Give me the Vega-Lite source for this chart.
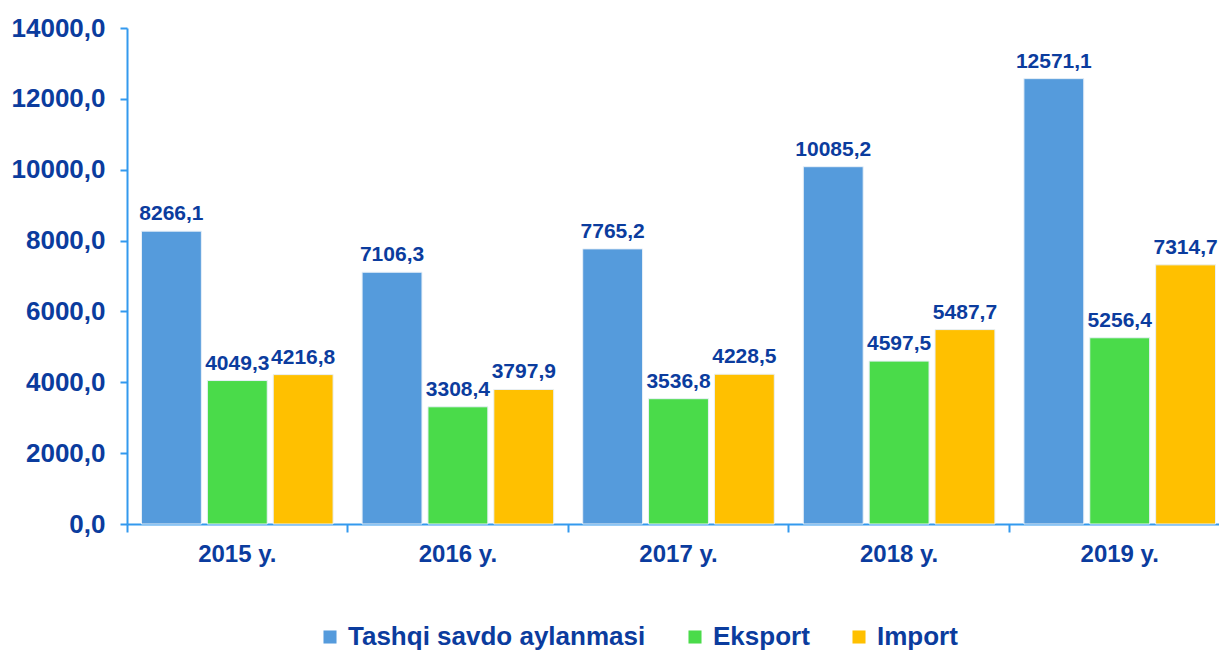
{
  "$schema": "https://vega.github.io/schema/vega-lite/v6.json",
  "width": 1092,
  "height": 496,
  "autosize": {"type": "none"},
  "padding": {"left": 127, "top": 28, "right": 0, "bottom": 129},
  "background": "white",
  "data": {
    "values": [
      {"year": "2015 y.", "series": "Tashqi savdo aylanmasi", "value": 8266.1},
      {"year": "2015 y.", "series": "Eksport", "value": 4049.3},
      {"year": "2015 y.", "series": "Import", "value": 4216.8},
      {"year": "2016 y.", "series": "Tashqi savdo aylanmasi", "value": 7106.3},
      {"year": "2016 y.", "series": "Eksport", "value": 3308.4},
      {"year": "2016 y.", "series": "Import", "value": 3797.9},
      {"year": "2017 y.", "series": "Tashqi savdo aylanmasi", "value": 7765.2},
      {"year": "2017 y.", "series": "Eksport", "value": 3536.8},
      {"year": "2017 y.", "series": "Import", "value": 4228.5},
      {"year": "2018 y.", "series": "Tashqi savdo aylanmasi", "value": 10085.2},
      {"year": "2018 y.", "series": "Eksport", "value": 4597.5},
      {"year": "2018 y.", "series": "Import", "value": 5487.7},
      {"year": "2019 y.", "series": "Tashqi savdo aylanmasi", "value": 12571.1},
      {"year": "2019 y.", "series": "Eksport", "value": 5256.4},
      {"year": "2019 y.", "series": "Import", "value": 7314.7}
    ]
  },
  "encoding": {
    "x": {
      "field": "year", "type": "nominal", "title": null,
      "scale": {"range": [0, 1103], "paddingInner": 0, "paddingOuter": 0},
      "axis": {
        "labelAngle": 0, "bandPosition": 0, "domainColor": "#3399ee", "domainWidth": 2,
        "tickColor": "#3399ee", "tickWidth": 2, "tickSize": 8, "labelPadding": 10,
        "labelFont": "Liberation Sans", "labelFontWeight": "bold", "labelFontSize": 24,
        "labelColor": "#0B3C9E", "grid": false
      }
    },
    "xOffset": {
      "field": "series", "type": "nominal",
      "sort": ["Tashqi savdo aylanmasi", "Eksport", "Import"],
      "scale": {"paddingInner": 0.0909, "paddingOuter": 0.22}
    },
    "y": {
      "field": "value", "type": "quantitative", "title": null,
      "scale": {"domain": [0, 14000], "nice": false},
      "axis": {
        "values": [0, 2000, 4000, 6000, 8000, 10000, 12000, 14000],
        "format": ".1f", "grid": false, "domainColor": "#3399ee", "domainWidth": 2,
        "tickColor": "#3399ee", "tickWidth": 2, "tickSize": 7, "labelPadding": 15,
        "labelFont": "Liberation Sans", "labelFontWeight": "bold", "labelFontSize": 26,
        "labelColor": "#0B3C9E"
      }
    }
  },
  "layer": [
    {
      "mark": {"type": "bar", "stroke": "#e8f0f8", "strokeWidth": 1},
      "encoding": {
        "color": {
          "field": "series", "type": "nominal", "title": null,
          "sort": ["Tashqi savdo aylanmasi", "Eksport", "Import"],
          "scale": {"domain": ["Tashqi savdo aylanmasi", "Eksport", "Import"], "range": ["#559BDC", "#4ADB4A", "#FFC000"]},
          "legend": {
            "orient": "none", "legendX": 190, "legendY": 596, "direction": "horizontal",
            "symbolType": "square", "symbolSize": 170, "symbolStrokeWidth": 0,
            "labelFont": "Liberation Sans", "labelFontWeight": "bold", "labelFontSize": 26,
            "labelColor": "#0B3C9E", "labelOffset": 5, "columnPadding": 36, "labelLimit": 400
          }
        }
      }
    },
    {
      "mark": {"type": "text", "baseline": "bottom", "dy": -7, "font": "Liberation Sans", "fontWeight": "bold", "fontSize": 21, "color": "#0B3C9E"},
      "encoding": {
        "text": {"field": "value", "type": "quantitative", "format": ".1f"}
      }
    }
  ],
  "config": {
    "view": {"stroke": null},
    "locale": {"number": {"decimal": ",", "thousands": "", "grouping": [3], "currency": ["", ""]}}
  }
}
